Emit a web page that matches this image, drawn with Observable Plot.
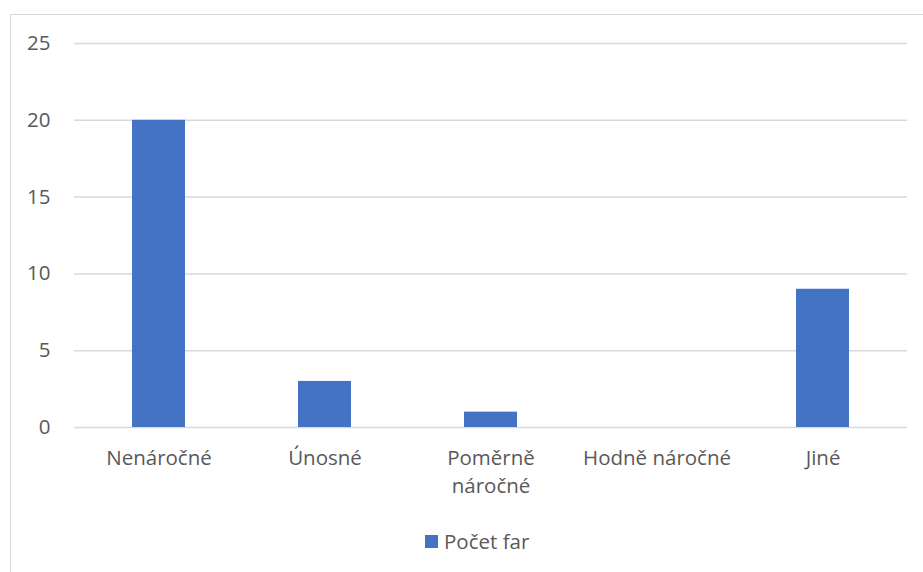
<!DOCTYPE html>
<html>
<head>
<meta charset="utf-8">
<script src="https://cdn.jsdelivr.net/npm/d3@7"></script>
<script src="https://cdn.jsdelivr.net/npm/@observablehq/plot@0.6"></script>
<style>
  html, body { margin: 0; padding: 0; background: #fff; width: 923px; height: 572px; overflow: hidden; }
  #frame { position: absolute; left: 10px; top: 14px; width: 960px; height: 640px; border: 1px solid #d9d9d9; box-sizing: border-box; }
  #chart { position: absolute; left: 0; top: 0; width: 923px; }
  #legend { display: flex; align-items: center; padding-left: 425px; height: 28px; font-family: "Open Sans", sans-serif; font-size: 20.5px; color: #595959; }
  #legend .sw { width: 13px; height: 13px; background: #4472c4; margin-right: 6px; }
</style>
</head>
<body>
<div id="frame"></div>
<div id="chart"></div>
<script>
const categories = ["Nenáročné", "Únosné", "Poměrně náročné", "Hodně náročné", "Jiné"];
const values = [20, 3, 1, 0, 9];
const seriesName = "Počet far";
const yTicks = [0, 5, 10, 15, 20, 25];
const barColor = "#4472c4";

const data = categories.map((c, i) => ({category: c, value: values[i]}));

const plot = Plot.plot({
  width: 923,
  height: 527,
  marginLeft: 74,
  marginRight: 16,
  marginTop: 43,
  marginBottom: 100,
  style: {fontFamily: "'Open Sans', sans-serif", fontSize: "20.5px", color: "#595959", background: "transparent"},
  x: {domain: categories, paddingInner: 0.68, paddingOuter: 0.34, label: null},
  y: {domain: [0, 25], ticks: yTicks, label: null},
  marks: [
    Plot.gridY(yTicks, {stroke: "#d9d9d9", strokeOpacity: 1, strokeWidth: 1.5}),
    Plot.barY(data, {x: "category", y: "value", fill: barColor}),
    Plot.axisY(yTicks, {tickSize: 0, tickPadding: 24, fill: "#595959", fontSize: 20.5, label: null}),
    Plot.axisX({tickSize: 0, tickPadding: 18, fill: "#595959", fontSize: 20.5, lineHeight: 1.35, label: null,
      tickFormat: d => d === "Poměrně náročné" ? "Poměrně\nnáročné" : d})
  ]
});
document.getElementById("chart").appendChild(plot);

const legend = document.createElement("div");
legend.id = "legend";
legend.innerHTML = `<span class="sw"></span><span>${seriesName}</span>`;
document.getElementById("chart").appendChild(legend);
</script>
</body>
</html>
